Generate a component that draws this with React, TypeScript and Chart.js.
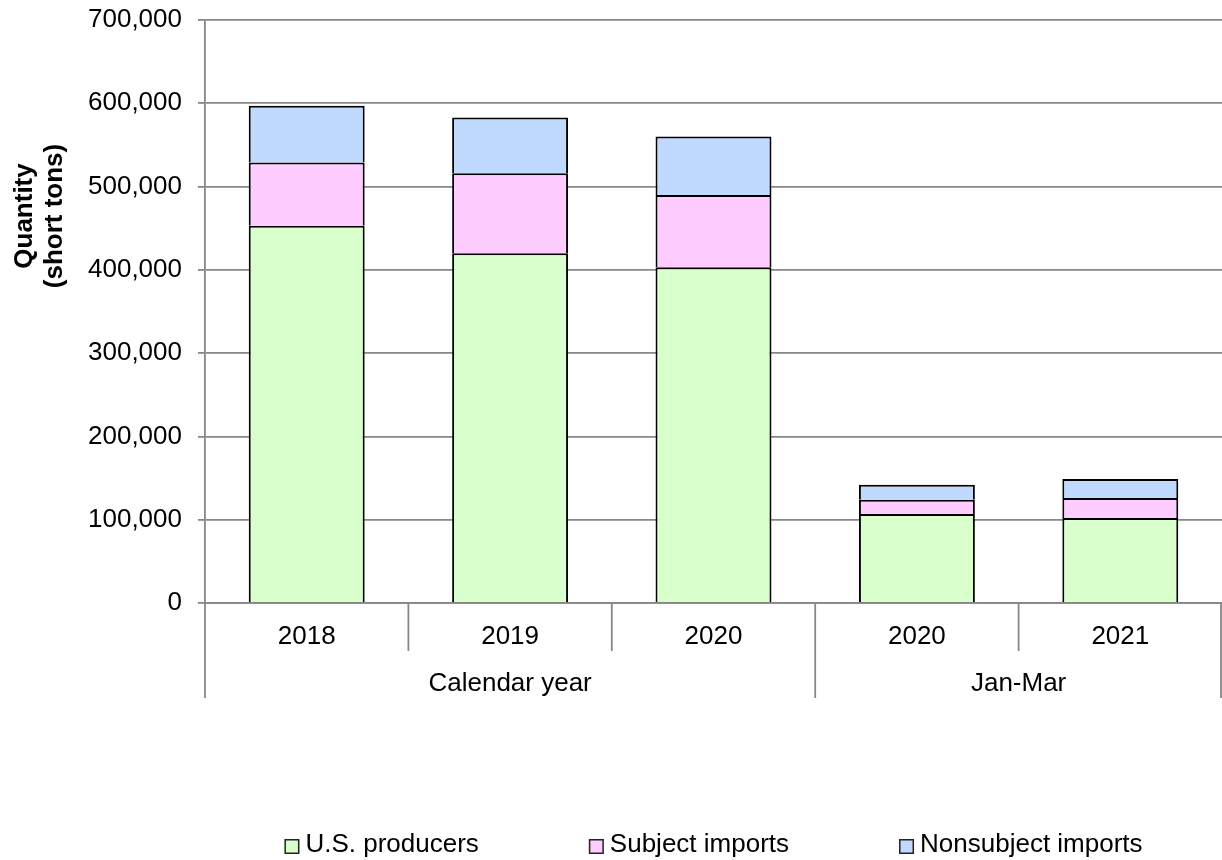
import { useEffect, useRef } from 'react';
import { Chart, registerables } from 'chart.js';

Chart.register(...registerables);

// ---- data ----
const categories = ['2018', '2019', '2020', '2020', '2021'];
const groupLabels = ['Calendar year', 'Jan-Mar'];
const groupSizes = [3, 2];
const seriesNames = ['U.S. producers', 'Subject imports', 'Nonsubject imports'];
const usProducers = [453000, 420000, 403000, 107000, 102000];
const subjectImports = [76000, 96000, 87000, 17000, 24000];
const nonsubjectImports = [68000, 67000, 70000, 18000, 23000];
const seriesColors = ['#D9FFCC', '#FFCCFF', '#C0DAFF'];
const yTitleLines = ['Quantity', '(short tons)'];
const yMin = 0;
const yMax = 700000;
const yStep = 100000;

const FONT = '"Liberation Sans", Arial, sans-serif';
const GRID = '#878787';

const groupAxisPlugin = {
  id: 'groupAxis',
  afterDraw(chart: any) {
    const ctx = chart.ctx;
    const area = chart.chartArea;
    const xs = chart.scales.x;
    const n = categories.length;
    const w = (area.right - area.left) / n;
    const groupBounds = new Set<number>();
    let acc = 0;
    groupBounds.add(0);
    groupSizes.forEach((s) => {
      acc += s;
      groupBounds.add(acc);
    });
    ctx.save();
    ctx.strokeStyle = GRID;
    ctx.lineWidth = 1.8;
    for (let i = 0; i <= n; i++) {
      let bx = i < n ? xs.getPixelForValue(i) - w / 2 : xs.getPixelForValue(n - 1) + w / 2;
      if (i === n) bx -= 1;
      const len = groupBounds.has(i) ? 95 : 48;
      ctx.beginPath();
      ctx.moveTo(bx, area.bottom);
      ctx.lineTo(bx, area.bottom + len);
      ctx.stroke();
    }
    // group labels
    ctx.fillStyle = '#000';
    ctx.font = `26px ${FONT}`;
    ctx.textAlign = 'center';
    ctx.textBaseline = 'alphabetic';
    let start = 0;
    groupSizes.forEach((s, gi) => {
      const a = xs.getPixelForValue(start);
      const b = xs.getPixelForValue(start + s - 1);
      ctx.fillText(groupLabels[gi], (a + b) / 2, area.bottom + 88);
      start += s;
    });
    // y title
    ctx.font = `bold 26px ${FONT}`;
    ctx.textAlign = 'center';
    ctx.textBaseline = 'alphabetic';
    ctx.save();
    ctx.translate(0, 216);
    ctx.rotate(-Math.PI / 2);
    ctx.fillText(yTitleLines[0], 0, 32);
    ctx.fillText(yTitleLines[1], 0, 62);
    ctx.restore();
    // legend
    ctx.font = `26px ${FONT}`;
    ctx.textAlign = 'left';
    const box = 15;
    const gapBT = 6;
    const gap = 110;
    const ds = chart.data.datasets;
    const widths = ds.map((d: any) => box + gapBT + ctx.measureText(d.label).width);
    const total = widths.reduce((p: number, c: number) => p + c, 0) + gap * (ds.length - 1);
    let lx = (area.left + area.right) / 2 - total / 2;
    const boxTop = 839;
    ds.forEach((d: any, i: number) => {
      ctx.fillStyle = d.backgroundColor;
      ctx.fillRect(lx, boxTop, box, box);
      ctx.strokeStyle = '#222';
      ctx.lineWidth = 1.5;
      ctx.strokeRect(lx + 0.75, boxTop + 0.75, box - 1.5, box - 1.5);
      ctx.fillStyle = '#000';
      ctx.fillText(d.label, lx + box + gapBT, 852);
      lx += widths[i] + gap;
    });
    ctx.restore();
  },
};

export default function App() {
  const ref = useRef<HTMLCanvasElement | null>(null);
  useEffect(() => {
    if (!ref.current) return;
    const data = [usProducers, subjectImports, nonsubjectImports];
    const chart = new Chart(ref.current, {
      type: 'bar',
      data: {
        labels: categories,
        datasets: seriesNames.map((name, i) => ({
          label: name,
          data: data[i],
          backgroundColor: seriesColors[i],
          borderColor: '#000',
          borderWidth: 2,
          barPercentage: 0.57,
          categoryPercentage: 1,
        })),
      },
      options: {
        animation: false,
        responsive: false,
        maintainAspectRatio: false,
        layout: { padding: { top: 20, left: 0, right: 0, bottom: 0 } },
        plugins: {
          legend: { display: false },
          tooltip: { enabled: false },
          title: { display: false },
        },
        scales: {
          x: {
            stacked: true,
            offset: true,
            grid: { display: false },
            border: { display: true, color: GRID, width: 1.8 },
            ticks: {
              color: '#000',
              font: { family: FONT, size: 26 },
              padding: 10,
              maxRotation: 0,
              autoSkip: false,
            },
            afterFit: (s: any) => {
              s.height = 257;
              s.paddingLeft = 0;
              s.paddingRight = 0;
            },
          },
          y: {
            stacked: true,
            min: yMin,
            max: yMax,
            grid: {
              color: GRID,
              lineWidth: 1.8,
              tickLength: 7,
              drawTicks: true,
            },
            border: { display: true, color: GRID, width: 1.8 },
            ticks: {
              stepSize: yStep,
              color: '#000',
              font: { family: FONT, size: 26 },
              padding: 16,
              callback: (v: any) => Number(v).toLocaleString('en-US'),
            },
            afterFit: (s: any) => {
              s.width = 205;
              s.paddingTop = 0;
              s.paddingBottom = 0;
            },
          },
        },
      },
      plugins: [groupAxisPlugin],
    });
    return () => chart.destroy();
  }, []);
  return (
    <div style={{ position: 'fixed', left: 0, top: 0, width: 1222, height: 860, background: '#fff' }}>
      <canvas ref={ref} width={1222} height={860} style={{ width: 1222, height: 860 }} />
    </div>
  );
}
